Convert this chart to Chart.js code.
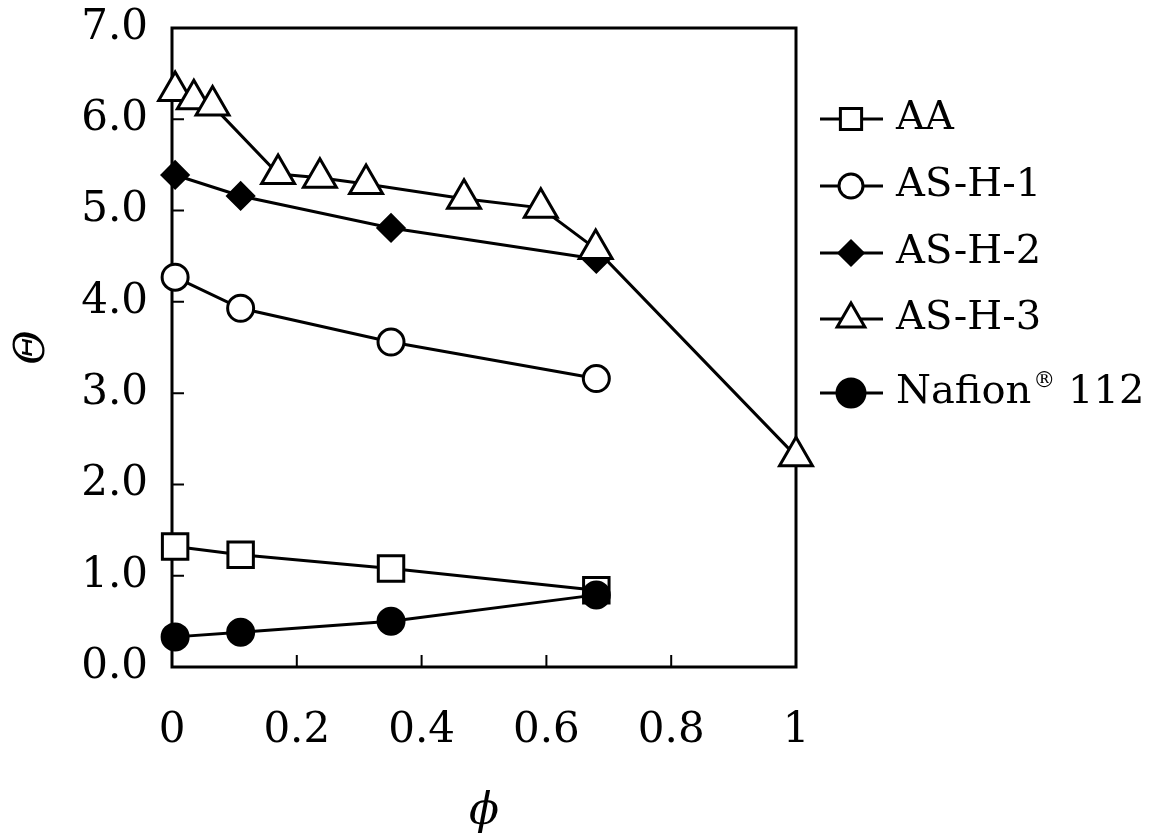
<!DOCTYPE html>
<html>
<head>
<meta charset="utf-8">
<script src="https://cdn.jsdelivr.net/npm/chart.js@4.4.1/dist/chart.umd.min.js"></script>
<style>
  html, body { margin: 0; padding: 0; background: #fff; }
</style>
</head>
<body>
<canvas id="chart" width="1150" height="839"></canvas>
<script>
const seriesNames = ["AA", "AS-H-1", "AS-H-2", "AS-H-3", "Nafion® 112"];

const phiAA = [0.005, 0.11, 0.351, 0.68];
const thetaAA = [1.32, 1.23, 1.08, 0.84];

const phiH1 = [0.005, 0.11, 0.351, 0.68];
const thetaH1 = [4.27, 3.93, 3.56, 3.16];

const phiH2 = [0.005, 0.11, 0.351, 0.68];
const thetaH2 = [5.39, 5.16, 4.81, 4.47];

const phiH3 = [0.005, 0.035, 0.065, 0.17, 0.237, 0.311, 0.468, 0.591, 0.679, 1.0];
const thetaH3 = [6.31, 6.22, 6.15, 5.40, 5.36, 5.29, 5.13, 5.03, 4.58, 2.31];

const phiNafion = [0.005, 0.11, 0.351, 0.68];
const thetaNafion = [0.33, 0.38, 0.50, 0.79];

const xTicks = [0, 0.2, 0.4, 0.6, 0.8, 1];
const yTicks = [0, 1, 2, 3, 4, 5, 6, 7];

const serif = "'DejaVu Serif', serif";

function pts(xs, ys) {
  return xs.map((x, i) => ({ x: x, y: ys[i] }));
}

function makeSet(i, xs, ys, style, radius, fill, order, legendRadius) {
  return {
    label: seriesNames[i],
    data: pts(xs, ys),
    showLine: true,
    borderColor: "#000",
    borderWidth: 3,
    pointStyle: style,
    pointRadius: radius,
    pointBackgroundColor: fill,
    pointBorderColor: "#000",
    pointBorderWidth: 3,
    order: order,
    clip: false,
    legendRadius: legendRadius,
  };
}

// box, inward ticks and legend drawn by hand
const framePlugin = {
  id: "frame",
  beforeDatasetsDraw(chart) {
    const { ctx, chartArea: a, scales } = chart;
    ctx.save();
    ctx.strokeStyle = "#000";
    ctx.lineWidth = 3;
    ctx.strokeRect(a.left, a.top, a.right - a.left, a.bottom - a.top);
    ctx.lineWidth = 2;
    ctx.beginPath();
    yTicks.slice(1, -1).forEach(v => {
      const y = scales.y.getPixelForValue(v);
      ctx.moveTo(a.left, y);
      ctx.lineTo(a.left + 12, y);
    });
    xTicks.slice(1, -1).forEach(v => {
      const x = scales.x.getPixelForValue(v);
      ctx.moveTo(x, a.bottom);
      ctx.lineTo(x, a.bottom - 12);
    });
    ctx.stroke();
    ctx.restore();
  },
  afterDraw(chart) {
    const { ctx } = chart;
    const rows = [119, 186, 253, 319, 393];
    ctx.save();
    chart.data.datasets.forEach((ds, i) => {
      const y = rows[i];
      ctx.strokeStyle = "#000";
      ctx.lineWidth = 3;
      ctx.beginPath();
      ctx.moveTo(820, y);
      ctx.lineTo(883, y);
      ctx.stroke();
      ctx.fillStyle = ds.pointBackgroundColor;
      ctx.strokeStyle = "#000";
      ctx.lineWidth = 3;
      Chart.helpers.drawPoint(ctx, { pointStyle: ds.pointStyle, radius: ds.legendRadius, borderWidth: 3 }, 851, y);
      ctx.fillStyle = "#000";
      ctx.textBaseline = "middle";
      ctx.textAlign = "left";
      ctx.font = "40px " + serif;
      const parts = ds.label.split("®");
      let x = 896;
      ctx.fillText(parts[0], x, y);
      if (parts.length > 1) {
        x += ctx.measureText(parts[0]).width + 2;
        ctx.font = "22px " + serif;
        ctx.fillText("®", x, y - 12);
        x += ctx.measureText("®").width;
        ctx.font = "40px " + serif;
        ctx.fillText(parts[1], x, y);
      }
    });
    ctx.restore();
  },
};

new Chart(document.getElementById("chart"), {
  type: "scatter",
  data: {
    datasets: [
      makeSet(0, phiAA, thetaAA, "rect", 18, "#fff", 4, 15),
      makeSet(1, phiH1, thetaH1, "circle", 13, "#fff", 3, 12),
      makeSet(2, phiH2, thetaH2, "rectRot", 13, "#000", 2, 12),
      makeSet(3, phiH3, thetaH3, "triangle", 19, "#fff", 1, 16),
      makeSet(4, phiNafion, thetaNafion, "circle", 13, "#000", 0, 14),
    ],
  },
  options: {
    responsive: false,
    animation: false,
    events: [],
    layout: { padding: { top: 28, right: 354, left: 0, bottom: 0 } },
    plugins: {
      legend: { display: false },
      tooltip: { enabled: false },
    },
    scales: {
      x: {
        type: "linear",
        min: 0,
        max: 1,
        afterFit(scale) {
          scale.height = 172;
          scale.paddingLeft = 0;
          scale.paddingRight = 0;
        },
        afterBuildTicks(scale) { scale.ticks = xTicks.map(v => ({ value: v })); },
        grid: { display: false },
        border: { display: false },
        ticks: {
          padding: 31,
          color: "#000",
          font: { family: serif, size: 42 },
          callback: v => (v === 0 || v === 1) ? String(v) : v.toFixed(1),
        },
        title: {
          display: true,
          text: "ϕ",
          color: "#000",
          font: { family: serif, size: 44, style: "italic" },
          padding: { top: 0, bottom: 0 },
        },
      },
      y: {
        type: "linear",
        min: 0,
        max: 7,
        afterFit(scale) {
          scale.width = 172;
          scale.paddingTop = 0;
          scale.paddingBottom = 0;
        },
        afterBuildTicks(scale) { scale.ticks = yTicks.map(v => ({ value: v })); },
        grid: { display: false },
        border: { display: false },
        ticks: {
          padding: 16,
          color: "#000",
          font: { family: serif, size: 42 },
          callback: v => v.toFixed(1),
        },
        title: {
          display: true,
          text: "Θ",
          color: "#000",
          font: { family: serif, size: 42, style: "italic" },
          padding: { top: 8, bottom: 0 },
        },
      },
    },
  },
  plugins: [framePlugin],
});
</script>
</body>
</html>
